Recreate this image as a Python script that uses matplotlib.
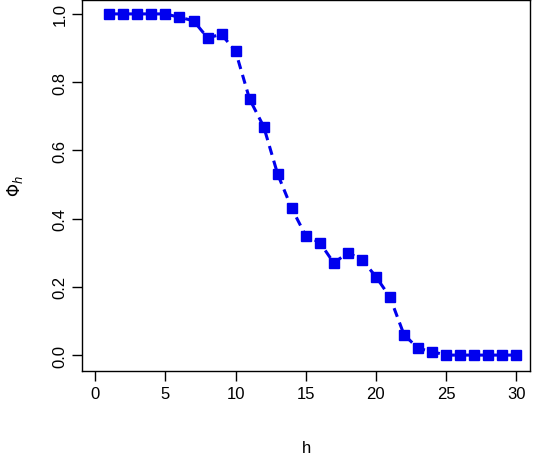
import matplotlib
matplotlib.use("Agg")
import matplotlib.pyplot as plt

h = list(range(1, 31))
phi = [1, 1, 1, 1, 1, 0.99, 0.98, 0.93, 0.94, 0.89, 0.75, 0.67, 0.53, 0.43, 0.35,
       0.33, 0.27, 0.30, 0.28, 0.23, 0.17, 0.06, 0.02, 0.01, 0, 0, 0, 0, 0, 0]

plt.rcParams['font.family'] = ['Liberation Sans', 'DejaVu Sans']
fig = plt.figure(figsize=(5.34, 4.6), dpi=100)
ax = fig.add_axes([0.154, 0.191, 0.839, 0.807])
ax.plot(h, phi, color='#0000ee', linestyle='--', linewidth=2.2, marker='s', markersize=6.5, dashes=(3, 2))
ax.set_xlim(-0.93, 31.0)
ax.set_ylim(-0.047, 1.041)
ax.set_xticks([0, 5, 10, 15, 20, 25, 30])
ax.set_yticks([0.0, 0.2, 0.4, 0.6, 0.8, 1.0])
ax.set_yticklabels(['0.0', '0.2', '0.4', '0.6', '0.8', '1.0'], rotation=90, va='center')
ax.tick_params(direction='out', length=7, labelsize=12, width=1)
ax.set_xlabel('h', fontsize=12, labelpad=28)
ax.set_ylabel(r'$\Phi_h$', fontsize=12, labelpad=20)
for s in ax.spines.values():
    s.set_linewidth(1)
fig.savefig('out.png', dpi=100)
